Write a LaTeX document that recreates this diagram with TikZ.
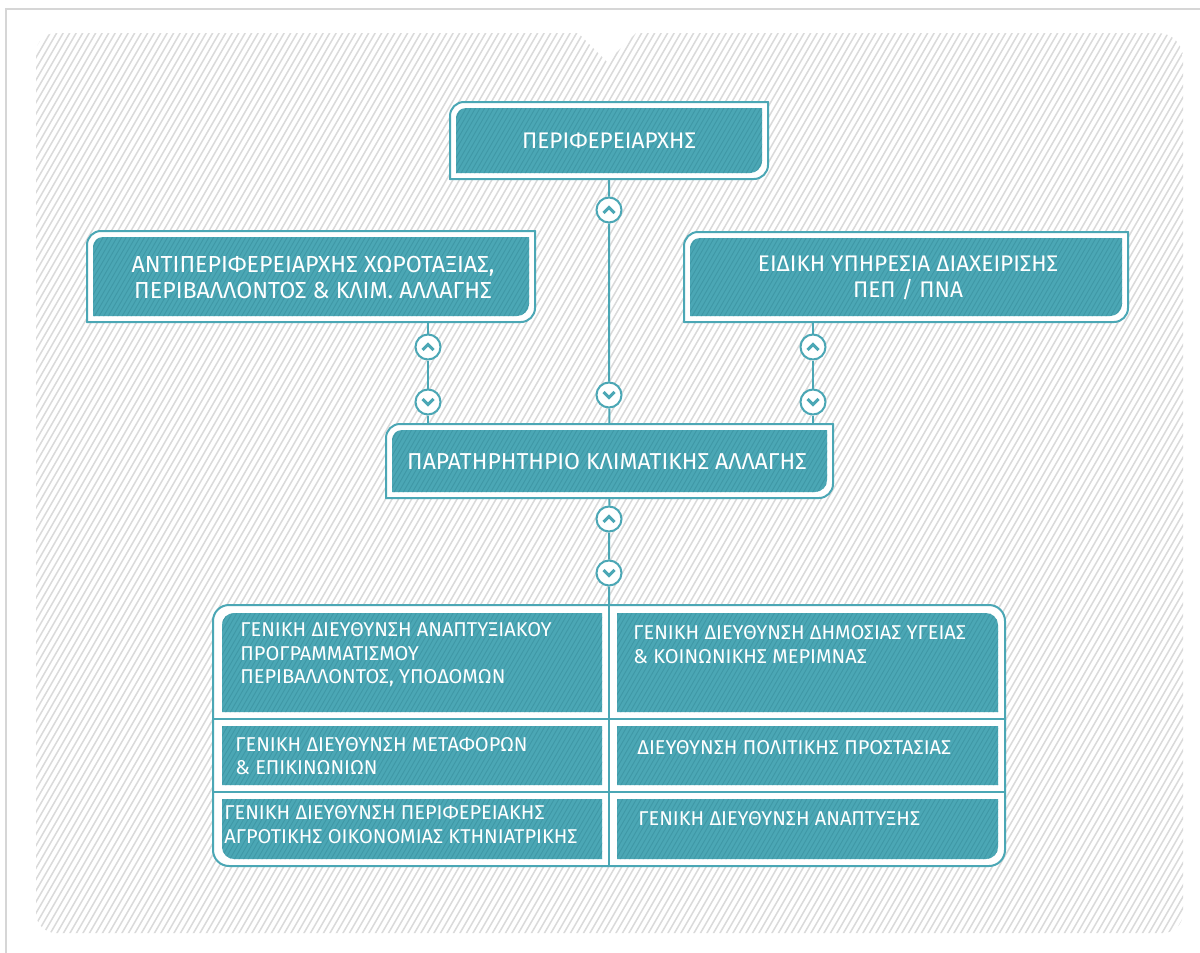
\documentclass[tikz,border=0pt]{standalone}
\usepackage{fontspec}
\setmainfont{Fira Sans}
\definecolor{teal1}{HTML}{4BA7B5}
\definecolor{tealdk}{HTML}{3F98A6}
\definecolor{hatchgray}{HTML}{DADADA}
\definecolor{framegray}{HTML}{D6D6D6}
% rounded rectangle with individual corner radii (pixel coords, y down)
\newcommand\rrect[9]{\path[#1] (#2,#3+#6) arc[start angle=180,end angle=270,radius=#6] -- (#4-#7,#3) arc[start angle=270,end angle=360,radius=#7] -- (#4,#5-#8) arc[start angle=0,end angle=90,radius=#8] -- (#2+#9,#5) arc[start angle=90,end angle=180,radius=#9] -- cycle;}
\newcommand\hatchlines[6]{%
 \pgfmathsetmacro\hatchH{#4-#2}%
 \pgfmathsetmacro\hatchX{#1-\hatchH*0.5774}%
 \pgfmathtruncatemacro\hatchN{(#3-\hatchX)/#5+1}%
 \foreach \k in {0,...,\hatchN}{\draw[#6] ({\hatchX+\k*#5},#4+2) -- ++({(\hatchH+4)*0.5774},{-(\hatchH+4)});}}
\newcommand\tealshape[8]{%
 \rrect{fill=teal1}{#1}{#2}{#3}{#4}{#5}{#6}{#7}{#8}%
 \begin{scope}\rrect{clip}{#1}{#2}{#3}{#4}{#5}{#6}{#7}{#8}%
 \hatchlines{#1}{#2}{#3}{#4}{4.6}{draw=tealdk,line width=0.45pt}\end{scope}}
\newcommand\upchev[1]{\draw[chev] ([shift={(-5.5,3)}]#1.center) -- ([shift={(0,-2.5)}]#1.center) -- ([shift={(5.5,3)}]#1.center);}
\newcommand\dnchev[1]{\draw[chev] ([shift={(-5.5,-3)}]#1.center) -- ([shift={(0,2.5)}]#1.center) -- ([shift={(5.5,-3)}]#1.center);}
\begin{document}
\begin{tikzpicture}[x=0.5pt,y=-0.5pt,
  frame/.style={draw=teal1,line width=1pt,fill=white},
  conn/.style={draw=teal1,line width=1pt},
  circ/.style={circle,draw=teal1,line width=1pt,fill=white,minimum size=12.5pt,inner sep=0pt},
  chev/.style={draw=teal1,line width=1.45pt},
  ghost/.style={inner sep=0pt,outer sep=0pt},
  lbl/.style={text=white,font=\fontsize{11.3}{13}\selectfont,align=center,inner sep=0pt},
  cell/.style={text=white,font=\fontsize{10}{11.75}\selectfont,align=left,anchor=west,inner sep=0pt}]
\useasboundingbox (0,0) rectangle (1200,953);
\fill[white] (0,0) rectangle (1200,953);
% background hatch
\begin{scope}
\path[clip] (36,53) arc[start angle=180,end angle=270,radius=20] -- (578,33) -- (607,62) -- (636,33) -- (1158,33) arc[start angle=270,end angle=360,radius=25] -- (1183,913) arc[start angle=0,end angle=90,radius=20] -- (56,933) arc[start angle=90,end angle=180,radius=20] -- cycle;
\hatchlines{36}{33}{1183}{933}{6.5}{draw=hatchgray,line width=0.75pt}
\end{scope}
\draw[framegray,line width=0.8pt] (6,953) -- (6,9) -- (1200,9);
% frames
\rrect{frame}{450}{102}{768}{179}{14}{0.01}{14}{0.01}
\tealshape{456}{108}{762}{173}{10}{0.01}{12}{0.01}
\rrect{frame}{87}{231}{535}{322}{14}{0.01}{14}{0.01}
\tealshape{93}{237}{529}{316}{10}{0.01}{12}{0.01}
\rrect{frame}{684}{232}{1128}{322}{14}{0.01}{14}{0.01}
\tealshape{690}{238}{1122}{316}{10}{0.01}{12}{0.01}
\rrect{frame}{386}{424}{833}{498}{14}{0.01}{14}{0.01}
\tealshape{392}{430}{827}{492}{10}{0.01}{12}{0.01}
% grid
\rrect{frame}{213}{605}{1005}{866}{16}{16}{16}{16}
\draw[conn] (213,719) -- (1005,719);
\draw[conn] (213,792) -- (1005,792);
\tealshape{222}{613}{602}{712}{12}{0.01}{0.01}{0.01}
\tealshape{617}{613}{998}{712}{0.01}{12}{0.01}{0.01}
\tealshape{222}{726}{602}{785}{0.01}{0.01}{0.01}{0.01}
\tealshape{617}{726}{998}{785}{0.01}{0.01}{0.01}{0.01}
\tealshape{222}{799}{602}{859}{0.01}{0.01}{0.01}{12}
\tealshape{617}{799}{998}{859}{0.01}{0.01}{12}{0.01}
% named frame nodes
\node[ghost,minimum width=159pt,minimum height=38.5pt] (top) at (609,140.5) {};
\node[ghost,minimum width=224pt,minimum height=45.5pt] (leftF) at (311,276.5) {};
\node[ghost,minimum width=222pt,minimum height=45pt] (rightF) at (906,277) {};
\node[ghost,minimum width=223.5pt,minimum height=37pt] (mid) at (609.5,461) {};
\node[ghost,minimum width=396pt,minimum height=130.5pt] (grid) at (609,735.5) {};
% labels
\node[lbl] (topT) at (609,141) {ΠΕΡΙΦΕΡΕΙΑΡΧΗΣ};
\node[lbl,font=\fontsize{11.6}{13}\selectfont] (leftT) at (313,278) {ΑΝΤΙΠΕΡΙΦΕΡΕΙΑΡΧΗΣ ΧΩΡΟΤΑΞΙΑΣ,\\ΠΕΡΙΒΑΛΛΟΝΤΟΣ \& ΚΛΙΜ. ΑΛΛΑΓΗΣ};
\node[lbl] (rightT) at (908,278) {ΕΙΔΙΚΗ ΥΠΗΡΕΣΙΑ ΔΙΑΧΕΙΡΙΣΗΣ\\ΠΕΠ / ΠΝΑ};
\node[lbl,font=\fontsize{11.5}{13}\selectfont] (midT) at (607,462) {ΠΑΡΑΤΗΡΗΤΗΡΙΟ ΚΛΙΜΑΤΙΚΗΣ ΑΛΛΑΓΗΣ};
\node[cell] (c11) at (240,655) {ΓΕΝΙΚΗ ΔΙΕΥΘΥΝΣΗ ΑΝΑΠΤΥΞΙΑΚΟΥ\\ΠΡΟΓΡΑΜΜΑΤΙΣΜΟΥ\\ΠΕΡΙΒΑΛΛΟΝΤΟΣ, ΥΠΟΔΟΜΩΝ};
\node[cell] (c21) at (235,756) {ΓΕΝΙΚΗ ΔΙΕΥΘΥΝΣΗ ΜΕΤΑΦΟΡΩΝ\\\& ΕΠΙΚΙΝΩΝΙΩΝ};
\node[cell] (c31) at (224,824.5) {ΓΕΝΙΚΗ ΔΙΕΥΘΥΝΣΗ ΠΕΡΙΦΕΡΕΙΑΚΗΣ\\ΑΓΡΟΤΙΚΗΣ ΟΙΚΟΝΟΜΙΑΣ ΚΤΗΝΙΑΤΡΙΚΗΣ};
\node[cell] (c12) at (633,644.5) {ΓΕΝΙΚΗ ΔΙΕΥΘΥΝΣΗ ΔΗΜΟΣΙΑΣ ΥΓΕΙΑΣ\\\& ΚΟΙΝΩΝΙΚΗΣ ΜΕΡΙΜΝΑΣ};
\node[cell] (c22) at (637,748) {ΔΙΕΥΘΥΝΣΗ ΠΟΛΙΤΙΚΗΣ ΠΡΟΣΤΑΣΙΑΣ};
\node[cell] (c32) at (638,819) {ΓΕΝΙΚΗ ΔΙΕΥΘΥΝΣΗ ΑΝΑΠΤΥΞΗΣ};
% circles
\node[circ] (c1u) at (609,210) {};
\node[circ] (c1d) at (609,395) {};
\node[circ] (cLu) at (428,347) {};
\node[circ] (cLd) at (428,402) {};
\node[circ] (cRu) at (813,347) {};
\node[circ] (cRd) at (813,402) {};
\node[circ] (cMu) at (609,519) {};
\node[circ] (cMd) at (609,573) {};
\upchev{c1u}\dnchev{c1d}\upchev{cLu}\dnchev{cLd}\upchev{cRu}\dnchev{cRd}\upchev{cMu}\dnchev{cMd}
% connectors
\draw[conn] (top.south) -- (c1u) -- (c1d) -- (mid.north);
\draw[conn] (leftF.south -| cLu) -- (cLu) -- (cLd) -- (mid.north -| cLd);
\draw[conn] (rightF.south -| cRu) -- (cRu) -- (cRd) -- (mid.north -| cRd);
\draw[conn] (mid.south) -- (cMu) -- (cMd) -- (grid.north);
\draw[conn] (grid.north) -- (grid.south);
\end{tikzpicture}
\end{document}
